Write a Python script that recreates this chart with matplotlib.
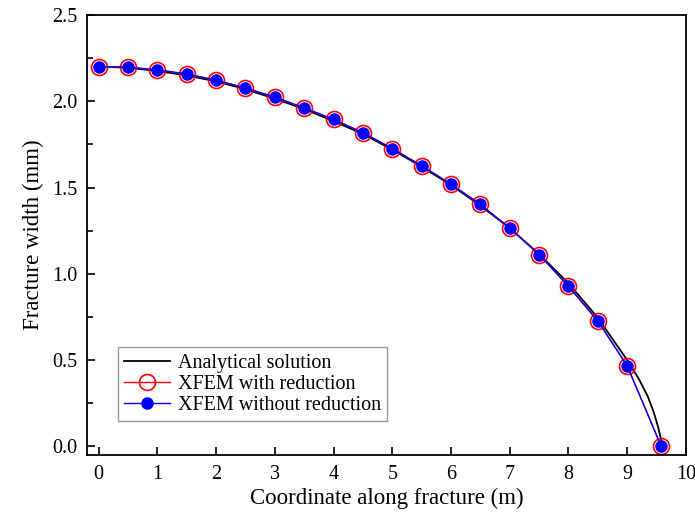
import numpy as np
import matplotlib.pyplot as plt
from matplotlib.ticker import MultipleLocator

plt.rcParams["font.family"] = ["Liberation Serif", "DejaVu Serif"]
plt.rcParams["mathtext.fontset"] = "stix"

# analytical solution
x_ana = [0, 0.5, 1, 1.5, 2, 2.5, 3, 3.5, 4, 4.5, 5, 5.5, 6, 6.5, 7,
         7.5, 8, 8.5, 9, 9.2, 9.35, 9.45, 9.52, 9.57, 9.6]
w_ana = [2.20, 2.195, 2.175, 2.15, 2.115, 2.07, 2.015, 1.955, 1.885, 1.81,
         1.72, 1.62, 1.515, 1.395, 1.265, 1.115, 0.945, 0.745, 0.50, 0.39,
         0.29, 0.20, 0.12, 0.05, 0.0]

# XFEM nodes
x_num = [0, 0.5, 1, 1.5, 2, 2.5, 3, 3.5, 4, 4.5, 5, 5.5, 6, 6.5, 7,
         7.5, 8, 8.5, 9, 9.58]
w_red = [2.20, 2.197, 2.182, 2.158, 2.122, 2.077, 2.024, 1.962, 1.895, 1.818,
         1.726, 1.626, 1.520, 1.402, 1.265, 1.112, 0.928, 0.727, 0.467, 0.0]
w_nored = w_red

fig = plt.figure(figsize=(6.95, 5.16), dpi=100)
ax = fig.add_axes([0.125, 0.118, 0.862, 0.853])

ax.plot(x_ana, w_ana, color="black", lw=1.3, label="Analytical solution")
ax.plot(x_num, w_red, color="red", lw=1.0, marker="o", ms=11.5,
        mfc="none", mec="red", mew=1.2, label="XFEM with reduction")
ax.plot(x_num, w_nored, color="blue", lw=1.0, marker="o", ms=8,
        mfc="blue", mec="blue", label="XFEM without reduction")

ax.set_xlim(-0.2, 10)
ax.set_ylim(-0.05, 2.5)
ax.xaxis.set_major_locator(MultipleLocator(1))
ax.yaxis.set_major_locator(MultipleLocator(0.5))
ax.yaxis.set_minor_locator(MultipleLocator(0.25))
ax.yaxis.set_major_formatter(plt.FormatStrFormatter("%.1f"))
ax.tick_params(direction="in", which="both", labelsize=14.5, width=1.2)
ax.tick_params(which="major", length=6, pad=7)
ax.tick_params(which="minor", length=4)
for s in ax.spines.values():
    s.set_linewidth(1.3)

ax.set_xlabel("Coordinate along fracture (m)", fontsize=16.5, labelpad=3)
ax.set_ylabel("Fracture width (mm)", fontsize=16.5, labelpad=6)

leg = ax.legend(loc="lower left", bbox_to_anchor=(0.035, 0.055), fontsize=14.5,
                frameon=True, fancybox=False, edgecolor="gray",
                handlelength=2.3, borderpad=0.3, labelspacing=0.1,
                handletextpad=0.4)
leg.get_frame().set_linewidth(1.0)

fig.savefig("out.png", dpi=100)
